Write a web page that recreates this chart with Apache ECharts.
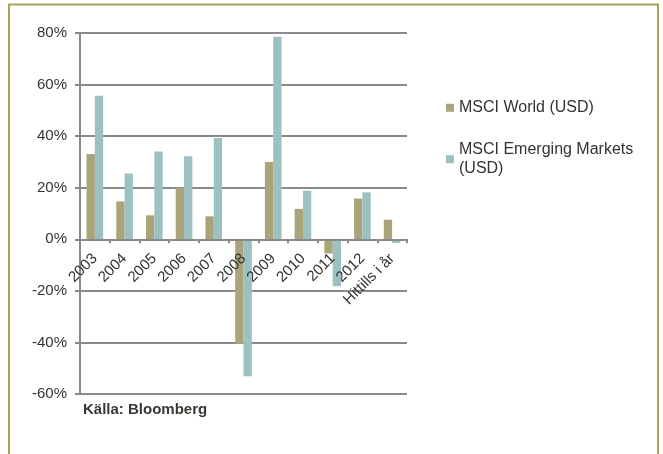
<!DOCTYPE html>
<html>
<head>
<meta charset="utf-8">
<script src="https://cdn.jsdelivr.net/npm/echarts@6/dist/echarts.min.js"></script>
<style>html,body{margin:0;padding:0;background:#fff}#c{width:663px;height:454px}</style>
</head>
<body>
<div id="c"></div>
<script>
const categories = ['2003','2004','2005','2006','2007','2008','2009','2010','2011','2012','Hittills i år'];
const msciWorld = [33.1, 14.7, 9.3, 20.0, 8.9, -40.5, 30.0, 11.8, -5.5, 15.8, 7.6];
const msciEM = [55.7, 25.5, 34.0, 32.2, 39.3, -53.1, 78.5, 18.8, -18.2, 18.2, -1.4];
const yMin = -60, yMax = 80, yStep = 20;
const seriesNames = ['MSCI World (USD)', 'MSCI Emerging Markets (USD)'];
const sourceText = 'Källa: Bloomberg';

const font = 'Liberation Sans, Arial, sans-serif';
const W = 663, H = 454;
const gridTop = 33, gridBottom = 60;
const gridHeight = H - gridTop - gridBottom;
// place the category axis (line, ticks, labels) at the zero value
const zeroOffset = -gridHeight * (0 - yMin) / (yMax - yMin);

const chart = echarts.init(document.getElementById('c'), null, {renderer: 'canvas'});
chart.setOption({
  animation: false,
  backgroundColor: '#fff',
  color: ['#a9a47a', '#9dc0c0'],
  grid: {left: 80, right: 256, top: gridTop, bottom: gridBottom, containLabel: false},
  title: {
    text: sourceText, left: 83, top: 402, padding: 0,
    textStyle: {fontFamily: font, fontSize: 15, fontWeight: 'bold', color: '#3a3833'}
  },
  legend: [
    {
      data: [seriesNames[0]], orient: 'vertical', left: 446, top: 98, padding: 0,
      icon: 'rect', itemWidth: 8, itemHeight: 8,
      textStyle: {fontFamily: font, fontSize: 16, color: '#333', lineHeight: 19.5}
    },
    {
      data: [seriesNames[1]], orient: 'vertical', left: 446, top: 130, padding: 0,
      icon: 'rect', itemWidth: 8, itemHeight: 8,
      formatter: function (n) { return n.replace(' (USD)', '\n(USD)'); },
      textStyle: {fontFamily: font, fontSize: 16, color: '#333', lineHeight: 19.5, padding: [19.5, 0, 0, 0]}
    }
  ],
  xAxis: {
    type: 'category', data: categories, z: 5,
    position: 'bottom', offset: zeroOffset,
    axisLine: {show: true, onZero: false, lineStyle: {color: '#8a8a8a', width: 2}},
    axisTick: {show: true, interval: 0, length: 4, inside: false, lineStyle: {color: '#8a8a8a', width: 2}},
    axisLabel: {interval: 0, rotate: 45, margin: 17, fontFamily: font, fontSize: 15, color: '#333'},
    splitLine: {show: false}
  },
  yAxis: {
    type: 'value', min: yMin, max: yMax, interval: yStep,
    axisLine: {show: true, onZero: false, lineStyle: {color: '#8a8a8a', width: 2}},
    axisTick: {show: true, length: 5, lineStyle: {color: '#8a8a8a', width: 2}},
    axisLabel: {formatter: '{value}%', margin: 13, fontFamily: font, fontSize: 15, color: '#333'},
    splitLine: {show: true, lineStyle: {color: '#8a8a8a', width: 2}}
  },
  series: [
    {name: seriesNames[0], type: 'bar', data: msciWorld, barGap: '0%', barCategoryGap: '44%'},
    {name: seriesNames[1], type: 'bar', data: msciEM, barGap: '0%', barCategoryGap: '44%'}
  ],
  graphic: [{
    type: 'rect', silent: true, z: 100,
    shape: {x: 9, y: 4.5, width: 649, height: 500},
    style: {fill: 'none', stroke: '#aaa25a', lineWidth: 2}
  }]
});
</script>
</body>
</html>
